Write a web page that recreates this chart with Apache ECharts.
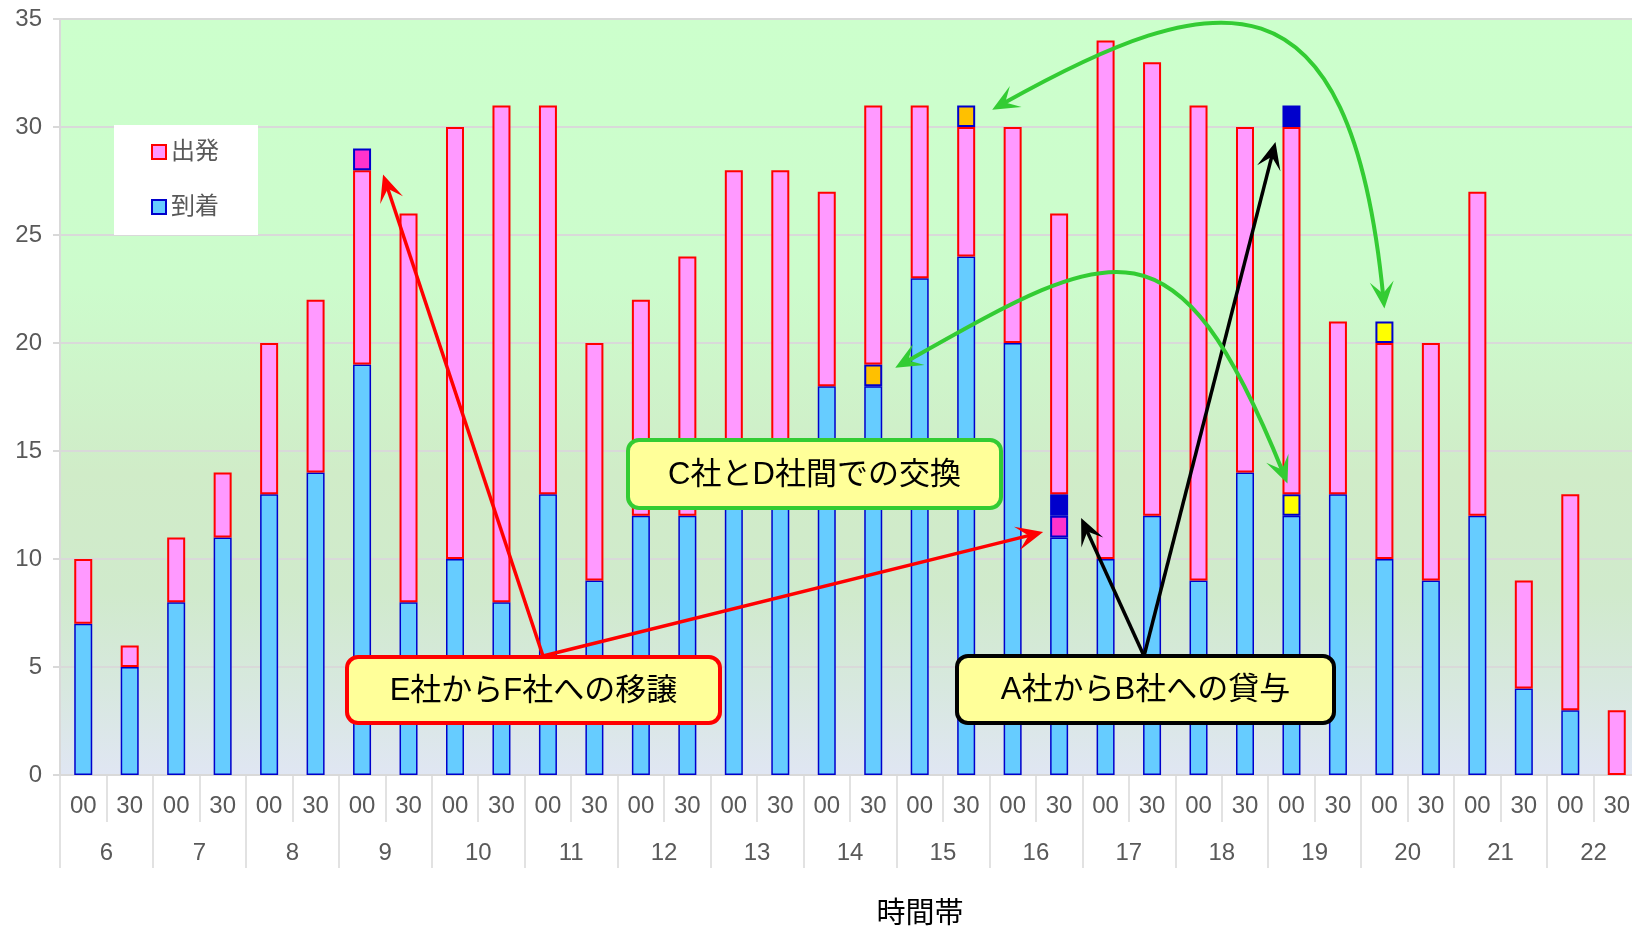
<!DOCTYPE html>
<html>
<head>
<meta charset="utf-8">
<script src="https://cdn.jsdelivr.net/npm/echarts@6/dist/echarts.min.js"></script>
<style>
  html, body { margin: 0; padding: 0; background: #ffffff; }
  #chart { width: 1632px; height: 926px; }
</style>
</head>
<body>
<div id="chart"></div>
<script>
// Half-hour slots from 6:00 to 22:30
const hourLabels = ['6', '7', '8', '9', '10', '11', '12', '13', '14', '15', '16', '17', '18', '19', '20', '21', '22'];
const slotLabels = hourLabels.flatMap(() => ['00', '30']);
const axisTitle = '時間帯';

// Slot counts
const arrivals   = [7, 5, 8, 11, 13, 14, 19, 8, 10, 8, 13, 9, 12, 12, 14, 13, 18, 18, 23, 24, 20, 11, 10, 12, 9, 14, 12, 13, 10, 9, 12, 4, 3, 0];
const departures = [3, 1, 3, 3, 7, 8, 9, 18, 20, 23, 18, 11, 10, 12, 14, 15, 9, 12, 8, 6, 10, 13, 24, 21, 22, 16, 17, 8, 10, 11, 15, 5, 10, 3];

// Single slots handed between companies (slot indexes)
const transferArr = [21];   // E社→F社 (arrival side)
const transferDep = [6];    // E社→F社 (departure side)
const loanArr     = [21];   // A社→B社 (arrival side)
const loanDep     = [26];   // A社→B社 (departure side)
const swapAArr    = [17];   // C社⇔D社, first pair
const swapADep    = [19];
const swapBArr    = [26];   // C社⇔D社, second pair
const swapBDep    = [28];
const blockSize = 1;

const FONT = "'Liberation Sans', 'Noto Sans CJK JP', sans-serif";

function blocks(slots) {
  return slotLabels.map((_, i) => (slots.includes(i) ? blockSize : '-'));
}
function counts(arr) {
  return arr.map(v => (v === 0 ? '-' : v));
}

function bar(name, data, color, border, bw) {
  return {
    name: name,
    type: 'bar',
    stack: 'total',
    barWidth: 18,
    data: data,
    itemStyle: { color: color, borderColor: border, borderWidth: bw },
    emphasis: { disabled: true }
  };
}

const chart = echarts.init(document.getElementById('chart'), null, { renderer: 'canvas' });

chart.setOption({
  animation: false,
  textStyle: { fontFamily: FONT },
  grid: {
    left: 60, right: -8, top: 19, bottom: 151,
    containLabel: false,
    outerBoundsMode: 'none',
    show: true,
    borderWidth: 0,
    backgroundColor: {
      type: 'linear', x: 0, y: 0, x2: 0, y2: 1,
      colorStops: [
        { offset: 0, color: '#ccffcc' },
        { offset: 0.35, color: '#ccfccc' },
        { offset: 0.6, color: '#d0ecc8' },
        { offset: 0.76, color: '#d0eacc' },
        { offset: 0.88, color: '#d7e8de' },
        { offset: 1, color: '#e0e6f3' }
      ]
    }
  },
  legend: {
    data: ['出発', '到着'],
    orient: 'vertical',
    left: 114, top: 125,
    backgroundColor: '#ffffff',
    padding: [15, 39, 16, 37],
    itemWidth: 14, itemHeight: 14,
    itemGap: 31,
    icon: 'rect',
    itemStyle: { borderWidth: 2 },
    textStyle: { fontSize: 24, color: '#595959', lineHeight: 24, fontFamily: FONT }
  },
  xAxis: [
    {
      type: 'category',
      data: slotLabels,
      position: 'bottom',
      axisLine: { lineStyle: { color: '#d9d9d9', width: 2 } },
      axisTick: { show: true, interval: 0, length: 47, lineStyle: { color: '#d9d9d9', width: 1.5 } },
      axisLabel: { interval: 0, fontSize: 24, color: '#595959', margin: 19, fontFamily: FONT }
    },
    {
      type: 'category',
      data: hourLabels,
      position: 'bottom',
      offset: 0,
      axisLine: { show: false },
      axisTick: { show: true, interval: 0, length: 93, lineStyle: { color: '#d9d9d9', width: 1.5 } },
      axisLabel: { interval: 0, fontSize: 24, color: '#595959', margin: 66, fontFamily: FONT }
    }
  ],
  yAxis: {
    type: 'value',
    min: 0, max: 35, interval: 5,
    axisLine: { show: true, lineStyle: { color: '#d9d9d9', width: 2 } },
    axisTick: { show: true, length: 7, lineStyle: { color: '#d9d9d9', width: 2 } },
    axisLabel: { fontSize: 24, color: '#595959', margin: 18, fontFamily: FONT },
    splitLine: { lineStyle: { color: '#d9d9d9', width: 2 } }
  },
  series: [
    bar('到着', counts(arrivals), '#66ccff', '#0000cc', 1.5),
    bar('移譲着', blocks(transferArr), '#ff33cc', '#0000cc', 2),
    bar('貸与着', blocks(loanArr), '#0000cc', '#0000cc', 2),
    bar('交換A着', blocks(swapAArr), '#ffc000', '#0000cc', 2),
    bar('交換B着', blocks(swapBArr), '#ffff00', '#0000cc', 2),
    bar('出発', counts(departures), '#ff99ff', '#ff0000', 2),
    bar('移譲発', blocks(transferDep), '#ff33cc', '#0000cc', 2),
    bar('貸与発', blocks(loanDep), '#0000cc', '#0000cc', 2),
    bar('交換A発', blocks(swapADep), '#ffc000', '#0000cc', 2),
    bar('交換B発', blocks(swapBDep), '#ffff00', '#0000cc', 2)
  ]
});

// ---- callouts and arrows ----
function at(slot, value, dx) {
  const p = chart.convertToPixel({ xAxisIndex: 0, yAxisIndex: 0 }, [slot, value]);
  return [p[0] + dx, p[1]];
}

function arrowHead(tip, dir, color) {
  const L = 27, W = 12, N = 15;
  const len = Math.hypot(dir[0], dir[1]);
  const ux = dir[0] / len, uy = dir[1] / len;
  const nx = -uy, ny = ux;
  const bx = tip[0] - ux * L, by = tip[1] - uy * L;
  return {
    type: 'polygon', z: 120,
    shape: { points: [tip, [bx + nx * W, by + ny * W], [tip[0] - ux * N, tip[1] - uy * N], [bx - nx * W, by - ny * W]] },
    style: { fill: color, stroke: null }
  };
}

function back(p, dir, d) {
  const len = Math.hypot(dir[0], dir[1]);
  return [p[0] - dir[0] / len * d, p[1] - dir[1] / len * d];
}

function straightArrow(from, tip, color, width) {
  const dir = [tip[0] - from[0], tip[1] - from[1]];
  const end = back(tip, dir, 14);
  return [
    { type: 'line', z: 119, shape: { x1: from[0], y1: from[1], x2: end[0], y2: end[1] },
      style: { stroke: color, lineWidth: width, lineCap: 'butt' } },
    arrowHead(tip, dir, color)
  ];
}

function curvedArrow(p0, c1, c2, p3, color, width) {
  const d0 = [p0[0] - c1[0], p0[1] - c1[1]];
  const d3 = [p3[0] - c2[0], p3[1] - c2[1]];
  const s = back(p0, d0, 12);
  const e = back(p3, d3, 12);
  return [
    { type: 'bezierCurve', z: 119,
      shape: { x1: s[0], y1: s[1], cpx1: c1[0], cpy1: c1[1], cpx2: c2[0], cpy2: c2[1], x2: e[0], y2: e[1] },
      style: { stroke: color, lineWidth: width, fill: null } },
    arrowHead(p0, d0, color),
    arrowHead(p3, d3, color)
  ];
}

function callout(x, y, w, h, border, text) {
  return {
    type: 'group', z: 110,
    children: [
      { type: 'rect', z: 110, shape: { x: x, y: y, width: w, height: h, r: 11 },
        style: { fill: '#ffff99', stroke: border, lineWidth: 4 } },
      { type: 'text', z: 111, x: x + w / 2, y: y + h / 2 + 1,
        style: { text: text, fill: '#000000', fontSize: 31, fontFamily: FONT, align: 'center', verticalAlign: 'middle' } }
    ]
  };
}

const redStart = [543, 656];
const blackStart = [1144, 656];

const graphics = [
  // axis title under the hour row
  { type: 'text', z: 50, x: 920, y: 915,
    style: { text: axisTitle, fill: '#000000', fontSize: 29, fontFamily: FONT, align: 'center', verticalAlign: 'middle' } },
  callout(347, 657, 373, 66, '#ff0000', 'E社からF社への移譲'),
  callout(628, 440, 373, 68, '#33cc33', 'C社とD社間での交換'),
  callout(957, 656, 377, 67, '#000000', 'A社からB社への貸与'),
  ...straightArrow(redStart, at(6, 27.8, 21), '#ff0000', 3.5),
  ...straightArrow(redStart, at(21, 11.25, -16), '#ff0000', 3.5),
  ...straightArrow(blackStart, at(21, 11.9, 22), '#000000', 3.5),
  ...straightArrow(blackStart, at(26, 29.3, -16), '#000000', 3.5),
  ...curvedArrow(at(19, 30.8, 26), [1218, -17], [1350, -40], at(28, 21.6, 0), '#33cc33', 4),
  ...curvedArrow(at(17, 18.85, 22), [1113, 245], [1175, 205], at(26, 13.5, -4), '#33cc33', 4)
];

chart.setOption({ graphic: { elements: graphics } });
</script>
</body>
</html>
